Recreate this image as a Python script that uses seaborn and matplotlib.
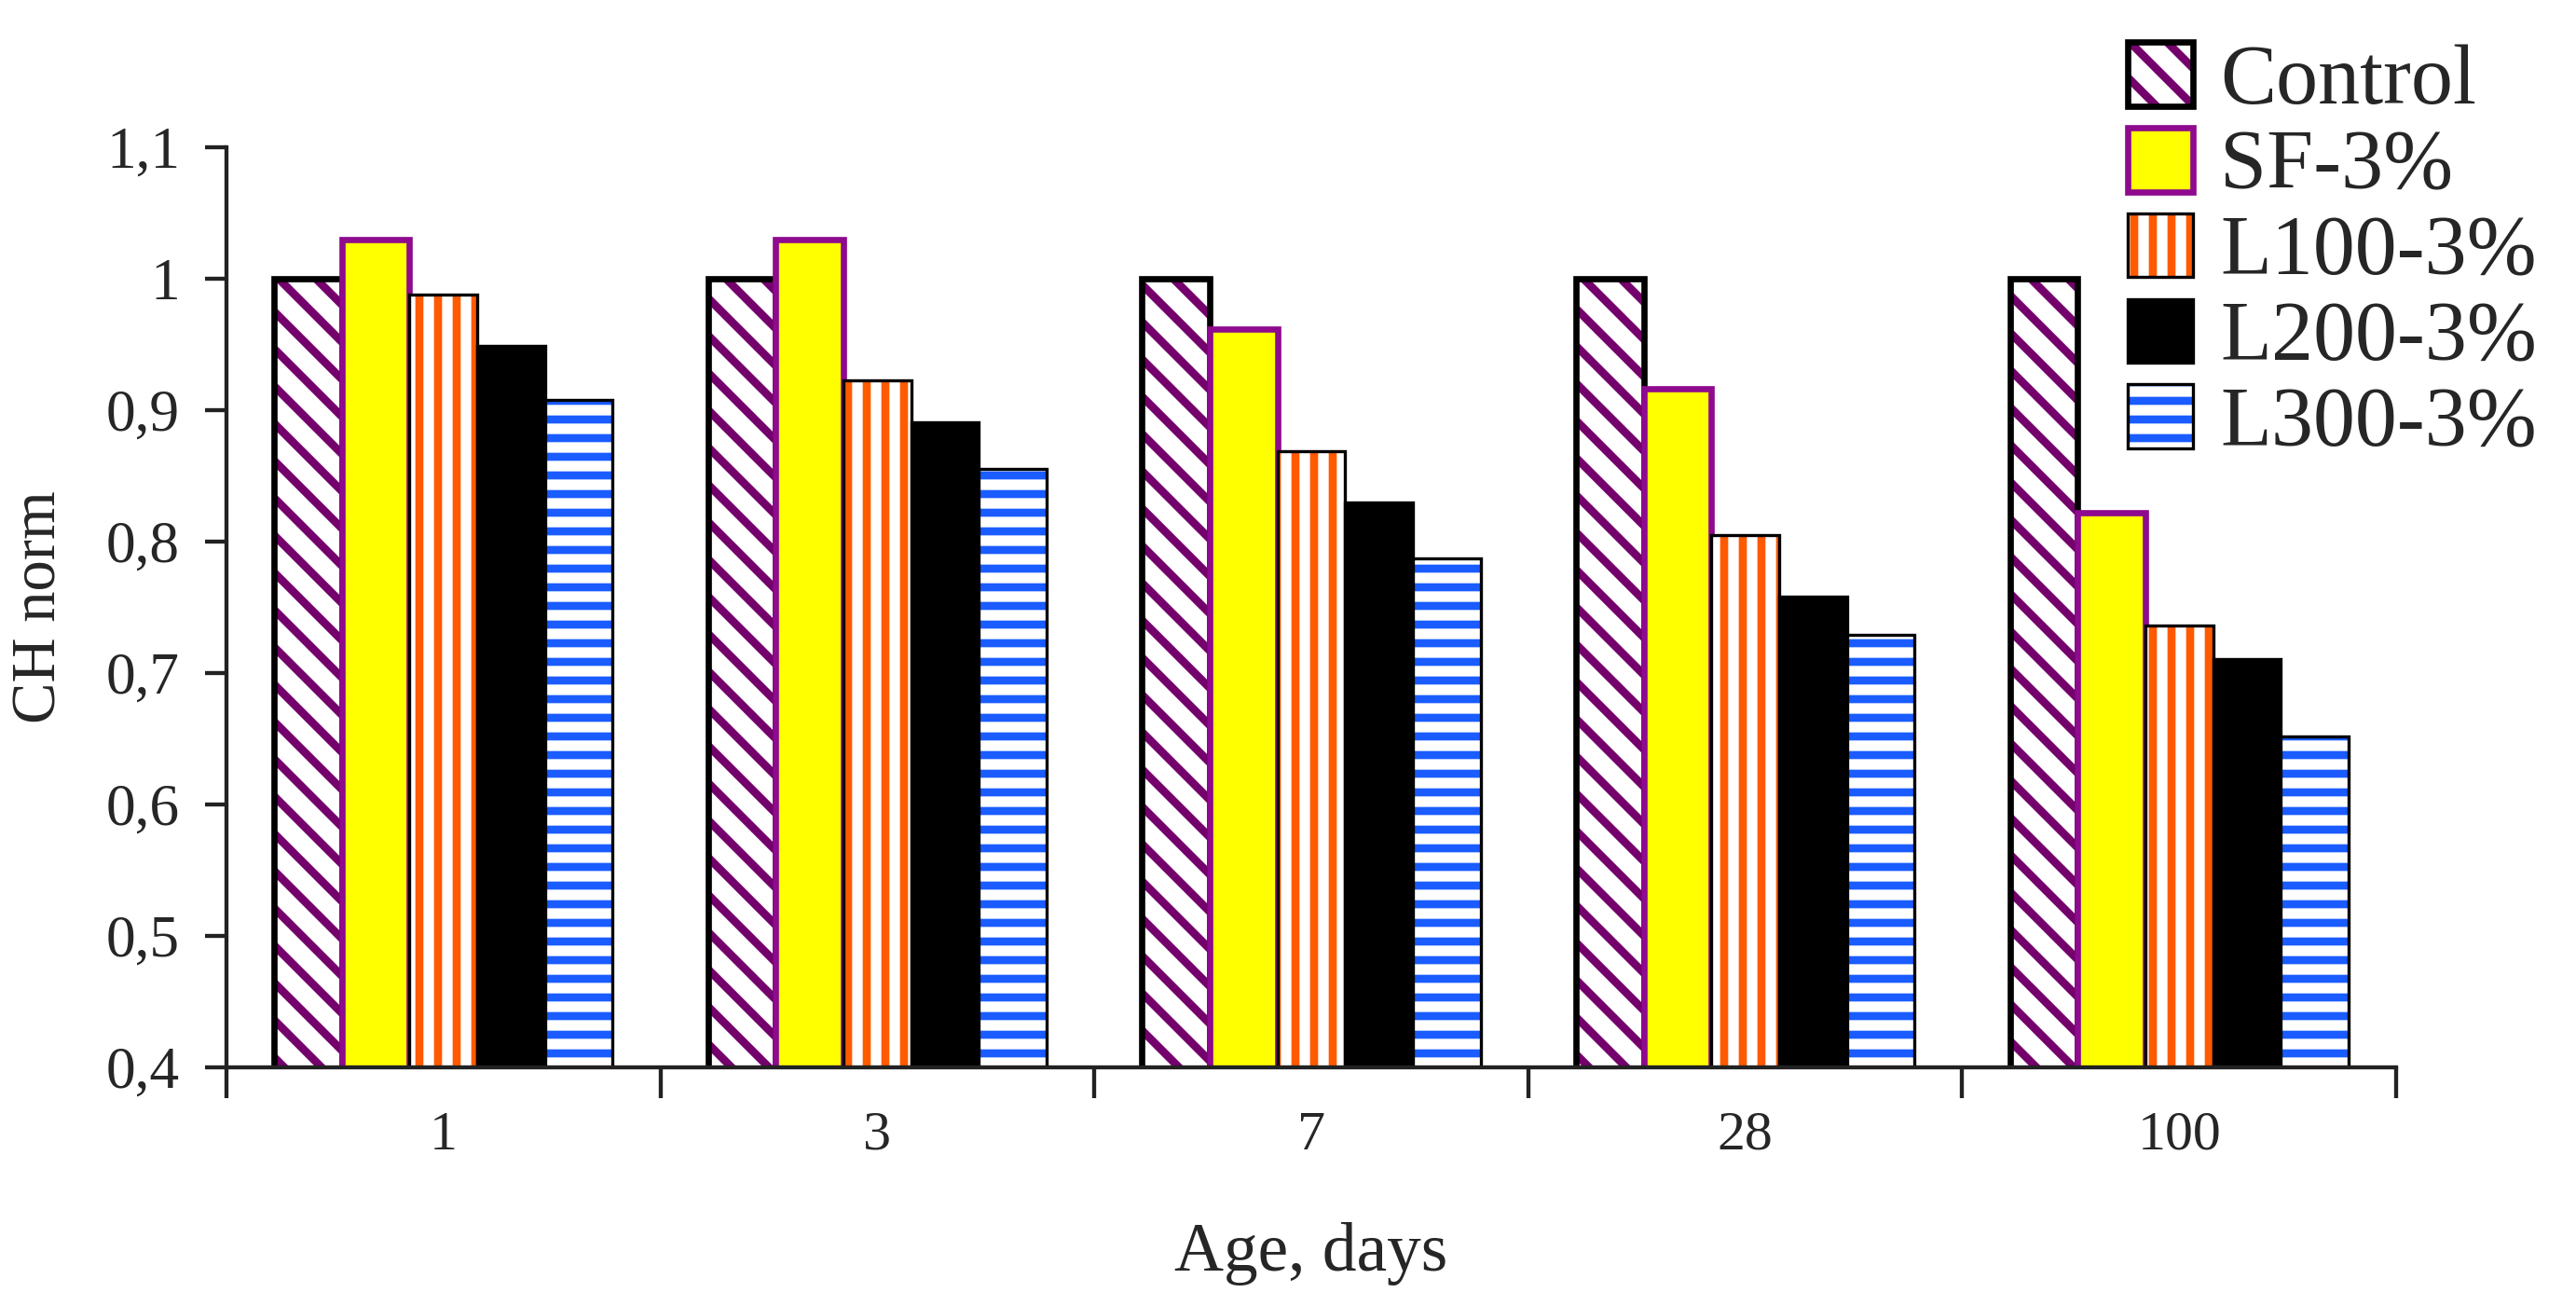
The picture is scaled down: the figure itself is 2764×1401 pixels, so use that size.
import numpy as np
import pandas as pd
import matplotlib.pyplot as plt
import matplotlib.ticker as ticker
from matplotlib.colors import to_rgba
import seaborn as sns

sns.set_style('ticks')
plt.rcParams['font.family'] = ['Liberation Serif', 'DejaVu Serif']
plt.rcParams['hatch.linewidth'] = 2.6

# values
ages = ['1', '3', '7', '28', '100']
groups = ['Control', 'SF-3%', 'L100-3%', 'L200-3%', 'L300-3%']
control = [1.0, 1.0, 1.0, 1.0, 1.0]
sf = [1.03, 1.03, 0.962, 0.916, 0.822]
l100 = [0.988, 0.923, 0.869, 0.805, 0.736]
l200 = [0.949, 0.891, 0.830, 0.758, 0.711]
l300 = [0.908, 0.855, 0.787, 0.729, 0.652]

df = pd.DataFrame({
	'age': ages * len(groups),
	'group': np.repeat(groups, len(ages)),
	'ch': control + sf + l100 + l200 + l300,
})

# face, edge, edge width, hatch, hatch colour
styles = {
	'Control': ('white', 'black', 2.0, '\\\\', '#74006c'),
	'SF-3%': ('#ffff00', '#8e0a8e', 2.0, '', None),
	'L100-3%': ('white', 'black', 1.0, '||', '#ff5a00'),
	'L200-3%': ('black', 'black', 1.0, '', None),
	'L300-3%': ('white', 'black', 1.0, '--', '#1a5cff'),
}


def style_bar(bar, name):
	face, edge, lw, hatch, hcol = styles[name]
	bar.set_facecolor(face)
	bar.set_edgecolor(edge)
	bar.set_linewidth(lw)
	if hatch:
		bar.set_hatch(hatch)
		bar._hatch_color = to_rgba(hcol)  # separate hatch colour from edge
		if hasattr(bar, 'set_hatch_linewidth'):
			bar.set_hatch_linewidth(2.6)


fig = plt.figure(figsize=(2764 / 240, 1401 / 240), dpi=240)
ax = fig.add_axes([0.0879, 0.1827, 0.8423, 0.7045])

sns.barplot(data=df, x='age', y='ch', hue='group', order=ages, hue_order=groups,
			width=0.78, saturation=1, legend=False, ax=ax)

for container, name in zip(ax.containers, groups):
	for bar in container:
		style_bar(bar, name)

ax.set_ylim(0.4, 1.1)
ax.set_xlim(-0.5, len(ages) - 0.5)
ax.yaxis.set_major_locator(ticker.MultipleLocator(0.1))
ax.yaxis.set_major_formatter(ticker.FuncFormatter(lambda v, p: f'{round(v, 1):g}'.replace('.', ',')))

# group separators as major ticks, labels on minor ticks at the centres
ax.set_xticks(np.arange(-0.5, len(ages), 1.0))
ax.set_xticklabels([])
ax.set_xticks(range(len(ages)), minor=True)
ax.set_xticklabels(ages, minor=True)
ax.tick_params(axis='x', which='major', length=10, width=1.3, color='#222222')
ax.tick_params(axis='x', which='minor', length=0, pad=14, labelsize=18)
ax.tick_params(axis='y', length=7, width=1.3, pad=8, labelsize=19, color='#222222')

sns.despine(ax=ax)
for s in ['left', 'bottom']:
	ax.spines[s].set_linewidth(1.3)
	ax.spines[s].set_color('#222222')

ax.set_xlabel('Age, days', fontsize=22)
ax.set_ylabel('CH norm', fontsize=20)
ax.xaxis.set_label_coords(0.5, -0.168)
ax.yaxis.set_label_coords(-0.073, 0.5)

handles = [c[0] for c in ax.containers]
fig.legend(handles, groups, loc='upper left', bbox_to_anchor=(0.826, 0.968),
		   frameon=False, fontsize=27, handlelength=0.78, handleheight=0.8,
		   handletextpad=0.32, labelspacing=0.08, borderpad=0, borderaxespad=0)

fig.savefig('out.png', dpi=240)
